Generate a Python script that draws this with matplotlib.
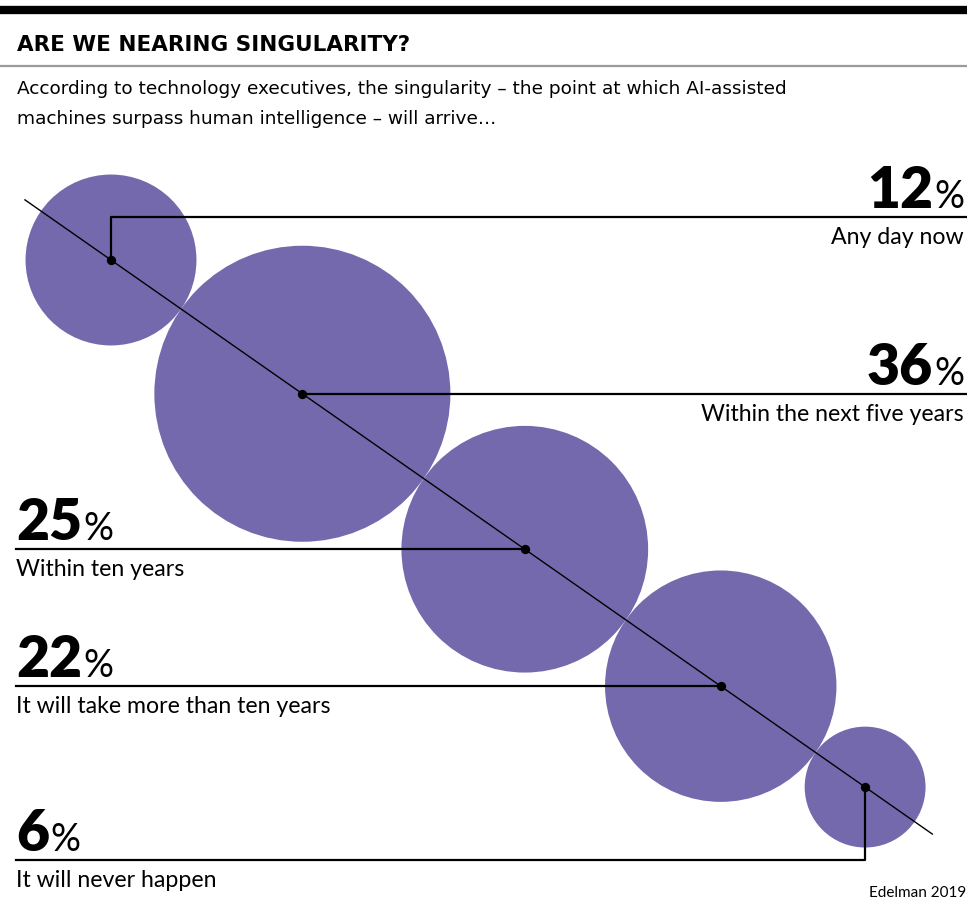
import numpy as np
import matplotlib
matplotlib.use("Agg")
import matplotlib.pyplot as plt
from matplotlib.patches import Circle

# ---- data ----
values = [12, 36, 25, 22, 6]
labels = ["Any day now", "Within the next five years", "Within ten years",
          "It will take more than ten years", "It will never happen"]
sides = ["right", "right", "left", "left", "left"]
title = "ARE WE NEARING SINGULARITY?"
subtitle = ["According to technology executives, the singularity \u2013 the point at which AI-assisted",
            "machines surpass human intelligence \u2013 will arrive\u2026"]
source = "Edelman 2019"

PURPLE = "#7569AD"
W, H = 967, 924
fig = plt.figure(figsize=(W / 100, H / 100), dpi=100)
ax = fig.add_axes([0, 0, 1, 1])
ax.set_xlim(0, W)
ax.set_ylim(H, 0)
ax.axis("off")

# header
ax.plot([0, W], [10, 10], color="black", lw=6, solid_capstyle="butt")
ax.text(17, 45, title, fontsize=15.5, fontweight="bold", family=["DejaVu Sans"],
        va="center", ha="left")
ax.plot([0, W], [66, 66], color="#9a9a9a", lw=1.6)
SUBFONT = dict(fontsize=13.3, family=["DejaVu Sans"], va="center")
ax.text(17, 89, subtitle[0], **SUBFONT)
ax.text(17, 119, subtitle[1], **SUBFONT)

# bubbles: radius ~ sqrt(value), tangent along a diagonal
k = 24.67
radii = [k * np.sqrt(v) for v in values]
ang = np.arctan2(527, 754)
d = np.array([np.cos(ang), np.sin(ang)])
start = np.array([111.0, 260.0])
centers = [start]
for i in range(1, len(values)):
    centers.append(centers[-1] + d * (radii[i - 1] + radii[i]))
centers = np.array(centers)

for (cx, cy), r in zip(centers, radii):
    ax.add_patch(Circle((cx, cy), r, color=PURPLE, lw=0, zorder=1))

# diagonal line
p0 = centers[0] - d * 105
p1 = centers[-1] + d * 82
ax.plot([p0[0], p1[0]], [p0[1], p1[1]], color="black", lw=1.0, zorder=3)
ax.scatter(centers[:, 0], centers[:, 1], s=45, color="black", zorder=4, lw=0)

renderer = fig.canvas.get_renderer()
NUMFONT = dict(family=["Lato", "DejaVu Sans"], fontweight="heavy", fontsize=41)
PCTFONT = dict(family=["Lato", "DejaVu Sans"], fontweight="normal", fontsize=27, color="black")
LABFONT = dict(family=["Lato", "DejaVu Sans"], fontsize=16.7)


def px_width(t):
    bb = t.get_window_extent(renderer=renderer)
    return bb.width


for i, (v, lab, side) in enumerate(zip(values, labels, sides)):
    cx, cy = centers[i]
    if i == 0:
        ly = cy - 43
        ax.plot([cx, cx, W], [cy, ly, ly], color="black", lw=1.6, zorder=3)
    elif i == len(values) - 1:
        ly = cy + 73
        ax.plot([cx, cx, 16], [cy, ly, ly], color="black", lw=1.6, zorder=3)
    elif side == "right":
        ly = cy
        ax.plot([cx, W], [ly, ly], color="black", lw=1.6, zorder=3)
    else:
        ly = cy
        ax.plot([cx, 16], [ly, ly], color="black", lw=1.6, zorder=3)

    by = ly - 9
    if side == "right":
        pt = ax.text(964, by, "%", ha="right", va="baseline", **PCTFONT)
        wpx = px_width(pt)
        ax.text(964 - wpx - 1, by, str(v), ha="right", va="baseline", **NUMFONT)
        ax.text(964, ly + 21, lab, ha="right", va="center", **LABFONT)
    else:
        nt = ax.text(16, by, str(v), ha="left", va="baseline", **NUMFONT)
        wpx = px_width(nt)
        ax.text(16 + wpx + 1, by, "%", ha="left", va="baseline", **PCTFONT)
        ax.text(16, ly + 20, lab, ha="left", va="center", **LABFONT)

ax.text(966, 893, source, ha="right", va="center", fontsize=11, family=["Lato", "DejaVu Sans"])

fig.savefig("out.png", dpi=100, facecolor="white")
